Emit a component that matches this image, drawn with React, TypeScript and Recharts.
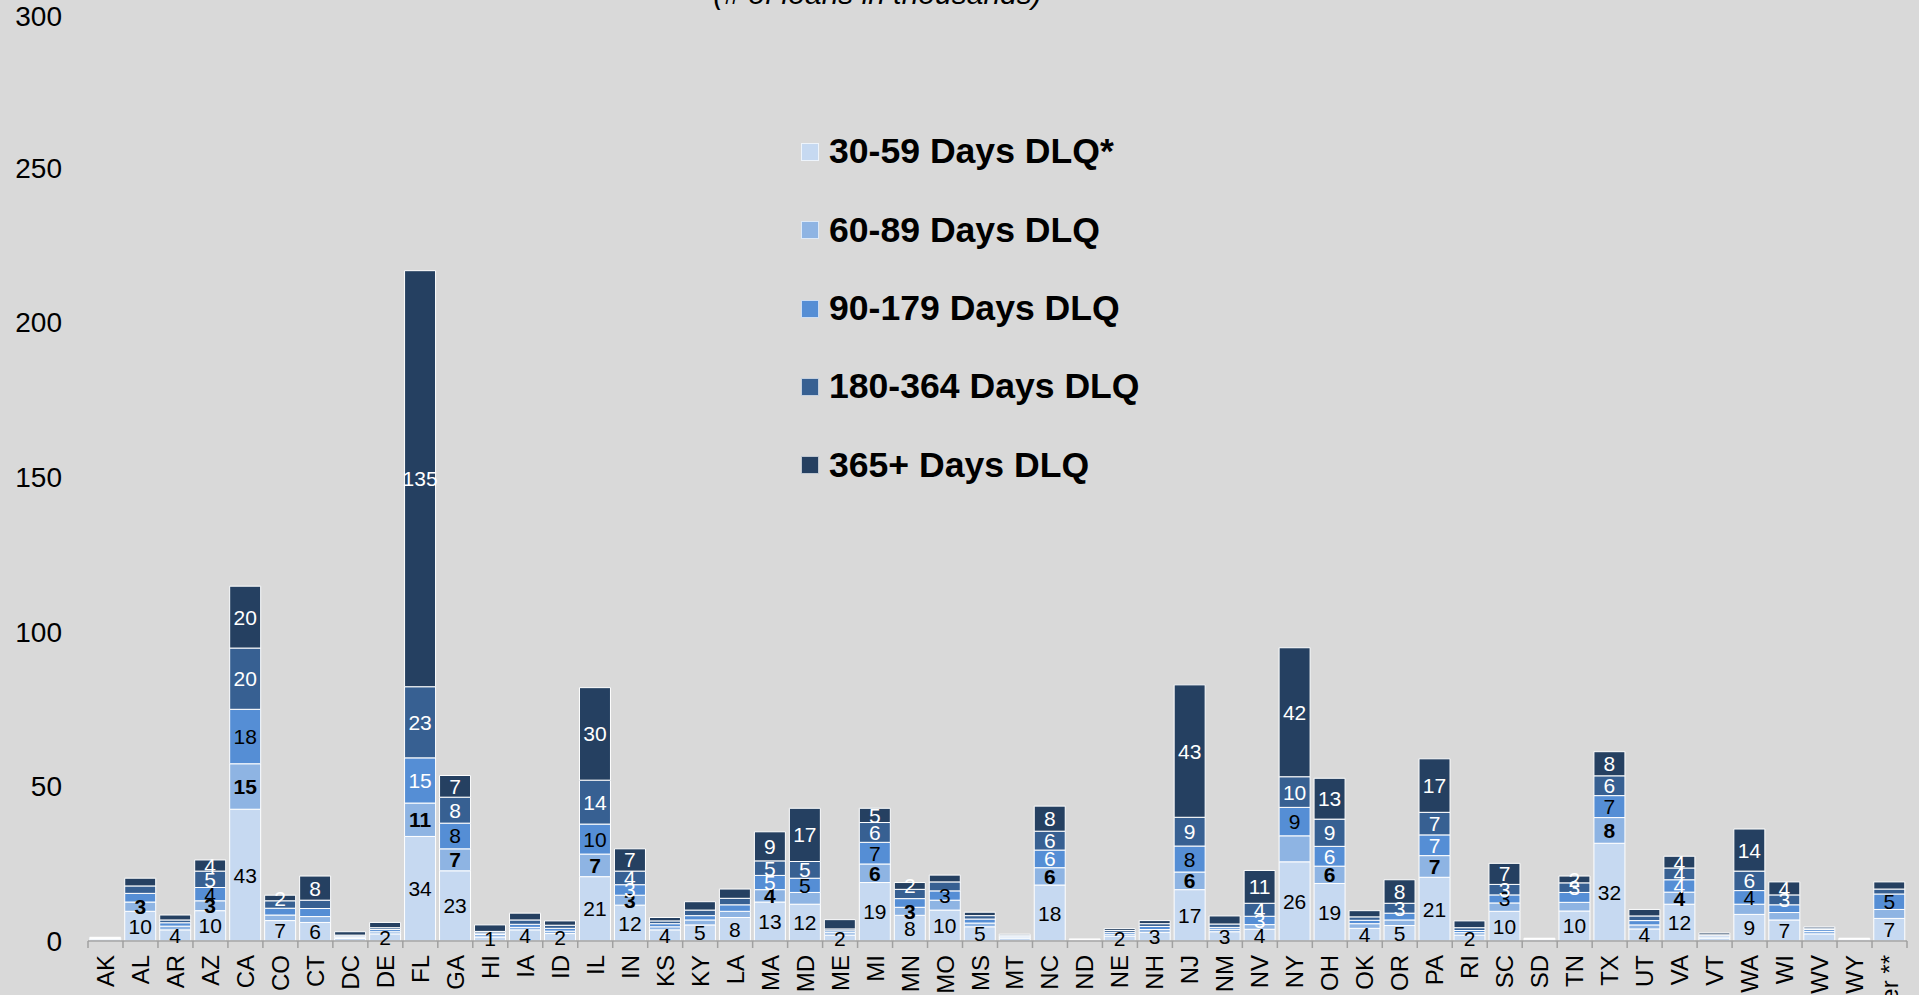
import React from 'react';
import { BarChart, Bar, XAxis, YAxis, Legend, LabelList } from 'recharts';

const states = ['AK','AL','AR','AZ','CA','CO','CT','DC','DE','FL','GA','HI','IA','ID','IL','IN','KS','KY','LA','MA','MD','ME','MI','MN','MO','MS','MT','NC','ND','NE','NH','NJ','NM','NV','NY','OH','OK','OR','PA','RI','SC','SD','TN','TX','UT','VA','VT','WA','WI','WV','WY','Other **'];

const seriesNames = ['30-59 Days DLQ*', '60-89 Days DLQ', '90-179 Days DLQ', '180-364 Days DLQ', '365+ Days DLQ'];
const seriesColors = ['#C6D9F1', '#8EB4E3', '#558ED5', '#376092', '#254061'];

const d30 = [0.6,9.6,3.6,9.8,42.6,6.6,6.0,0.8,2.3,33.8,22.7,1.3,3.6,2.4,20.8,11.6,3.6,5.2,7.6,12.6,11.9,1.9,18.9,8.3,10.0,4.6,0.9,18.1,0.3,1.6,2.8,16.6,3.0,3.8,25.6,18.6,4.1,5.0,20.6,1.9,9.6,0.4,9.7,31.6,3.9,11.9,0.9,8.6,6.8,2.3,0.4,7.3];
const d60 = [0.2,3.0,1.2,3.2,14.7,1.8,1.9,0.4,0.7,10.8,7.1,0.8,0.8,0.8,7.3,3.2,1.0,1.6,2.0,4.0,3.8,0.8,6.0,2.6,3.2,1.2,0.4,5.6,0.1,0.6,0.9,5.7,0.8,1.5,8.4,5.6,1.5,1.8,7.0,0.8,2.7,0.15,2.8,8.3,1.3,3.9,0.4,3.3,2.4,0.8,0.2,2.9];
const d90 = [0.2,2.8,1.1,4.3,17.6,2.2,2.6,0.4,0.7,14.6,8.3,0.5,1.0,0.9,9.7,3.4,1.0,1.4,2.1,4.6,4.6,0.6,7.0,2.8,3.0,1.3,0.3,5.7,0.1,0.6,1.0,8.4,0.6,2.7,9.2,6.4,1.1,2.2,6.7,0.7,2.6,0.15,3.2,7.1,1.4,4.0,0.4,4.4,2.5,0.6,0.1,5.0];
const d180 = [0.1,2.4,0.9,5.3,19.8,2.4,2.7,0.3,0.6,23.0,8.4,0.5,1.4,1.0,14.2,4.4,0.9,1.8,2.1,4.7,5.4,0.6,6.4,3.0,2.9,1.1,0.3,6.1,0.05,0.6,0.9,9.3,1.1,4.2,9.9,8.8,1.1,3.2,7.3,0.9,3.4,0.1,3.1,6.4,1.5,3.8,0.3,6.3,3.2,0.5,0.1,1.6];
const d365 = [0.1,2.5,1.6,3.6,20.0,1.8,7.8,1.1,1.7,134.5,7.0,2.1,2.2,1.4,29.9,7.2,1.1,2.7,3.0,9.4,17.2,3.0,4.6,2.2,2.2,1.1,0.3,8.1,0.05,0.6,1.0,42.8,2.6,10.6,41.7,13.2,2.0,7.6,17.3,2.2,6.8,0.1,2.2,7.8,2.1,3.8,0.6,13.6,4.2,0.4,0.1,2.3];

const unlabeled30 = ['AK','DC','MT','ND','SD','VT','WV','WY'];
const labeled60 = ['AL','AZ','CA','FL','GA','IL','IN','MA','MI','MN','NC','NJ','OH','PA','TX','VA'];
const labeled90 = ['AZ','CA','FL','GA','IL','IN','MA','MD','MI','MO','NC','NJ','NV','NY','OH','PA','SC','TX','VA','WA','Other **'];
const white90 = ['FL','IN','NC','NV','OH','VA','PA','MA'];
const labeled180 = ['AZ','CA','FL','GA','IL','IN','MA','MD','MI','NC','NJ','NV','NY','OH','OR','PA','SC','TN','TX','VA','WA','WI'];
const labeled365 = ['AZ','CA','CO','CT','FL','GA','IL','IN','MA','MD','MI','MN','NC','NJ','NV','NY','OH','OR','PA','SC','TN','TX','VA','WA','WI'];

const yTicks = [0, 50, 100, 150, 200, 250, 300];

const FONT = '"Liberation Sans", Arial, Helvetica, sans-serif';
const W = 1919;
const H = 995;
const Y_AXIS_W = 88;
const RIGHT = 12;
const HALF_BAND = (W - Y_AXIS_W - RIGHT) / states.length / 2;

const data = states.map((s, i) => ({
  state: s,
  v30: d30[i],
  v60: d60[i],
  v90: d90[i],
  v180: d180[i],
  v365: d365[i],
}));

const keys = ['v30', 'v60', 'v90', 'v180', 'v365'];
const arrays = [d30, d60, d90, d180, d365];

function shown(series: number, s: string) {
  if (series === 0) return !unlabeled30.includes(s);
  if (series === 1) return labeled60.includes(s);
  if (series === 2) return labeled90.includes(s);
  if (series === 3) return labeled180.includes(s);
  return labeled365.includes(s);
}

function labelColor(series: number, s: string) {
  if (series <= 1) return '#000000';
  if (series === 2) return white90.includes(s) ? '#ffffff' : '#000000';
  return '#ffffff';
}

const makeLabel = (series: number) => (props: any) => {
  const idx = props.index;
  if (idx == null) return null;
  const s = states[idx];
  if (!shown(series, s)) return null;
  const vb = props.viewBox || {};
  const x = props.x != null ? props.x : vb.x;
  const y = props.y != null ? props.y : vb.y;
  const w = props.width != null ? props.width : vb.width;
  const h = props.height != null ? props.height : vb.height;
  return (
    <text
      x={x + w / 2}
      y={y + h / 2}
      textAnchor="middle"
      dominantBaseline="central"
      fontSize={21}
      fontFamily={FONT}
      fontWeight={series === 1 ? 'bold' : 'normal'}
      fill={labelColor(series, s)}
    >
      {Math.round(arrays[series][idx])}
    </text>
  );
};

const XTick = (props: any) => {
  const { x, y, payload, index } = props;
  const last = index === states.length - 1;
  return (
    <g>
      <line x1={x - HALF_BAND} y1={y} x2={x - HALF_BAND} y2={y + 7} stroke="#a0a0a0" strokeWidth={1.5} />
      {last && <line x1={x + HALF_BAND} y1={y} x2={x + HALF_BAND} y2={y + 7} stroke="#a0a0a0" strokeWidth={1.5} />}
      <text
        transform={`translate(${x},${y + 14}) rotate(-90)`}
        textAnchor="end"
        dominantBaseline="central"
        fontSize={24}
        fontFamily={FONT}
        fill="#000000"
      >
        {payload.value}
      </text>
    </g>
  );
};

const LegendContent = () => (
  <div style={{ fontFamily: FONT }}>
    {seriesNames.map((n, i) => (
      <div key={n} style={{ display: 'flex', alignItems: 'center', height: 78.3 }}>
        <div
          style={{
            width: 18,
            height: 18,
            boxSizing: 'border-box',
            background: seriesColors[i],
            border: '1px solid rgba(255,255,255,0.7)',
            marginRight: 10,
            flexShrink: 0,
          }}
        />
        <span style={{ fontSize: 35.6, fontWeight: 'bold', color: '#000', whiteSpace: 'nowrap', lineHeight: 1 }}>{n}</span>
      </div>
    ))}
  </div>
);

export default function App() {
  return (
    <div style={{ position: 'absolute', left: 0, top: 0, width: W, height: H, background: '#d9d9d9', overflow: 'hidden', fontFamily: FONT }}>
      <div
        style={{
          position: 'absolute',
          left: 877.5,
          top: -21,
          transform: 'translateX(-50%)',
          fontSize: 30,
          lineHeight: '30px',
          fontStyle: 'italic',
          whiteSpace: 'nowrap',
          color: '#000',
        }}
      >
        (# of loans in thousands)
      </div>
      <BarChart
        width={W}
        height={H}
        data={data}
        margin={{ top: 13, right: RIGHT, bottom: 0, left: 0 }}
        barCategoryGap="5%"
      >
        <XAxis
          dataKey="state"
          interval={0}
          height={54}
          tickSize={0}
          tickMargin={0}
          tickLine={false}
          axisLine={{ stroke: '#a0a0a0', strokeWidth: 1.5 }}
          tick={<XTick />}
        />
        <YAxis
          width={Y_AXIS_W}
          domain={[0, 300]}
          ticks={yTicks}
          axisLine={false}
          tickLine={false}
          tickSize={0}
          tickMargin={26}
          tick={{ fontSize: 28, fill: '#000000', fontFamily: FONT }}
        />
        <Legend
          layout="vertical"
          align="center"
          verticalAlign="middle"
          wrapperStyle={{ left: 801, top: 113, width: 500, height: 392 }}
          content={<LegendContent />}
        />
        {keys.map((k, i) => (
          <Bar
            key={k}
            dataKey={k}
            name={seriesNames[i]}
            stackId="a"
            fill={seriesColors[i]}
            stroke="#ffffff"
            strokeWidth={1}
            isAnimationActive={false}
          >
            <LabelList dataKey={k} content={makeLabel(i)} />
          </Bar>
        ))}
      </BarChart>
    </div>
  );
}
